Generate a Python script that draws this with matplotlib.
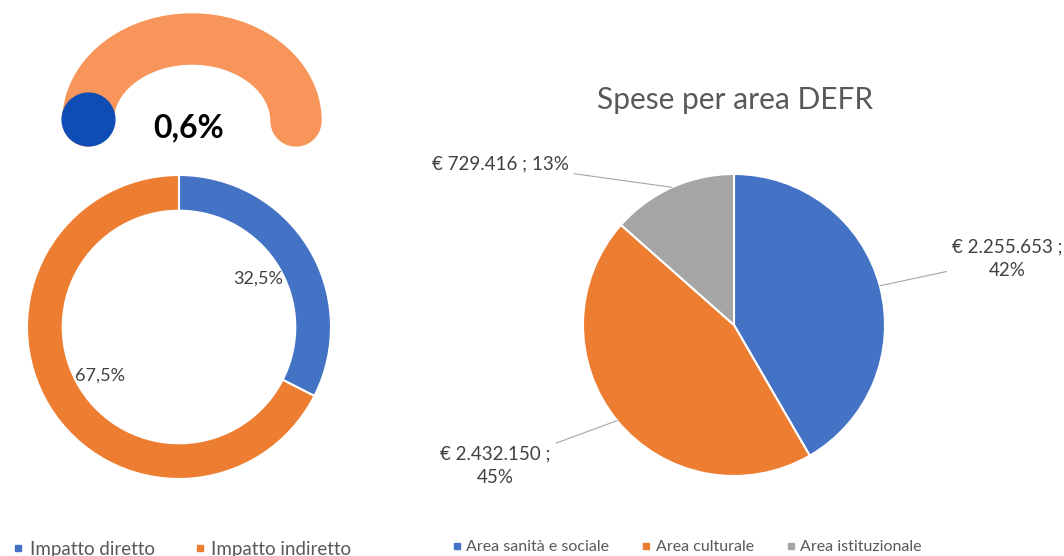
import numpy as np
import matplotlib.pyplot as plt
from matplotlib.lines import Line2D

plt.rcParams['font.family'] = ['Lato', 'DejaVu Sans']

# dati
gauge_value = 0.6  # percentuale
impatto_labels = ["Impatto diretto", "Impatto indiretto"]
impatto_values = [32.5, 67.5]

aree = ["Area sanità e sociale", "Area culturale", "Area istituzionale"]
spese = [2255653, 2432150, 729416]
spese_testo = ["€ 2.255.653 ;\n42%", "€ 2.432.150 ;\n45%", "€ 729.416 ; 13%"]

blu = "#4472C4"
arancio = "#ED7D31"
grigio = "#A5A5A5"
testo = "#595959"

W, H = 1064, 556
fig = plt.figure(figsize=(W / 100, H / 100), dpi=100)


def px_axes(x0, y0, x1, y1):
    # assi in coordinate pixel (origine in alto a sinistra)
    return fig.add_axes([x0 / W, 1 - y1 / H, (x1 - x0) / W, (y1 - y0) / H])


# --- indicatore a semicerchio ---
axg = px_axes(0, 0, 380, 175)
axg.set_xlim(0, 380)
axg.set_ylim(175, 0)
axg.axis('off')
cx, cy, rx, ry = 192, 121, 104, 82
t = np.linspace(np.pi, 0, 200)
axg.plot(cx + rx * np.cos(t), cy - ry * np.sin(t), color="#F7955A", lw=37,
         solid_capstyle='round')
ang = np.pi * (1 - gauge_value / 100)
axg.plot(cx + rx * np.cos(ang), cy - ry * np.sin(ang), 'o', color="#0E4DB5",
         markersize=38)
axg.text(189, 128, f"{gauge_value:.1f}%".replace('.', ','), ha='center',
         va='center', fontsize=23, fontweight='bold', color='black')

# --- ciambella impatto ---
axd = px_axes(27, 175, 331, 479)
wedges_d, _, autot = axd.pie(
    impatto_values, colors=[blu, arancio], startangle=90, counterclock=False,
    radius=1, wedgeprops=dict(width=0.235, edgecolor='white', linewidth=1.5),
    autopct=lambda p: f"{p:.1f}%".replace('.', ','), pctdistance=0.61,
    textprops=dict(color="#404040", fontsize=13))
axd.set_aspect('equal')
axd.set_xlim(-1, 1)
axd.set_ylim(-1, 1)

# --- torta spese ---
axp = px_axes(583, 174, 885, 476)
wedges_p, _ = axp.pie(spese, colors=[blu, arancio, grigio], startangle=90,
                      counterclock=False, radius=1,
                      wedgeprops=dict(edgecolor='white', linewidth=1.5))
axp.set_aspect('equal')
axp.set_xlim(-1, 1)
axp.set_ylim(-1, 1)

pos_testo = [(1.81, 0.44), (-1.58, -0.93), (-1.55, 1.07)]
for w, s, (tx, ty) in zip(wedges_p, spese_testo, pos_testo):
    a = np.deg2rad((w.theta1 + w.theta2) / 2)
    axp.annotate(s, xy=(np.cos(a), np.sin(a)), xytext=(tx, ty),
                 ha='center', va='center', fontsize=13.5, color="#404040",
                 linespacing=1.45, annotation_clip=False,
                 arrowprops=dict(arrowstyle='-', color="#A6A6A6", lw=0.8,
                                 shrinkA=2, shrinkB=0))

fig.text(735 / W, 1 - 100 / H, "Spese per area DEFR", ha='center', va='center',
         fontsize=21.5, color=testo)

# --- legende ---
h1 = [Line2D([], [], marker='s', ls='', color=c, markersize=5) for c in [blu, arancio]]
fig.legend(h1, impatto_labels, loc='center left', bbox_to_anchor=(-6 / W, 1 - 549 / H),
           ncol=2, frameon=False, fontsize=13.5, labelcolor=testo, handletextpad=0.2,
           columnspacing=2.0, handlelength=0.8)
h2 = [Line2D([], [], marker='s', ls='', color=c, markersize=5) for c in [blu, arancio, grigio]]
fig.legend(h2, aree, loc='center left', bbox_to_anchor=(436 / W, 1 - 547 / H),
           ncol=3, frameon=False, fontsize=11.5, labelcolor=testo, handletextpad=0.2,
           columnspacing=1.9, handlelength=0.8)

fig.savefig("out.png", dpi=100, facecolor='white')
